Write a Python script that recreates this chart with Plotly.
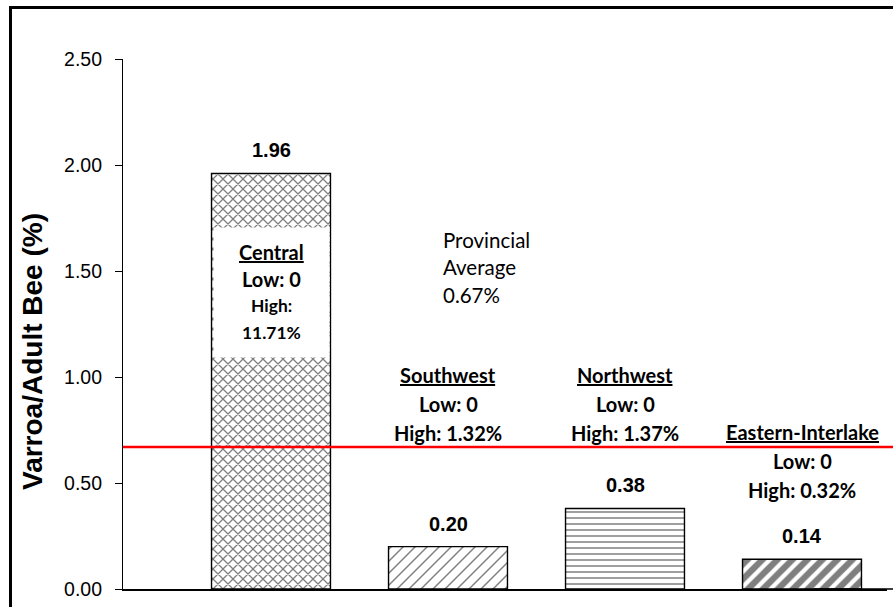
import plotly.graph_objects as go

# ---- data ----
regions = ["Central", "Southwest", "Northwest", "Eastern-Interlake"]
mean_values = [1.96, 0.20, 0.38, 0.14]
low_values = ["0", "0", "0", "0"]
high_values = ["11.71%", "1.32%", "1.37%", "0.32%"]
provincial_average = 0.67
y_ticks = [0.0, 0.5, 1.0, 1.5, 2.0, 2.5]
y_tick_labels = ["0.00", "0.50", "1.00", "1.50", "2.00", "2.50"]

# ---- layout geometry (pixels) ----
W, H = 893, 607
ML, MR, MT, MB = 123, 3, 59, 18
PW, PH = W - ML - MR, H - MT - MB
CAT_PX = 177.0          # pixel width of one category
FIRST_CAT_PX = 271.0    # pixel centre of the first category

def px_to_paper_x(px):
    return (px - ML) / PW

def px_to_paper_y(py):
    return (H - MB - py) / PH

def px_to_data_y(py):
    return (H - MB - py) / PH * 2.5

x_lo = (ML - FIRST_CAT_PX) / CAT_PX
x_hi = (W - MR - FIRST_CAT_PX) / CAT_PX

ARIAL = "Arial, Liberation Sans, sans-serif"
CALIBRI = "Lato, Carlito, Calibri, sans-serif"

fig = go.Figure()
fig.add_trace(go.Bar(
    x=list(range(len(regions))),
    y=mean_values,
    marker=dict(
        color="white",
        line=dict(color="black", width=1.4),
        pattern=dict(
            shape=["x", "/", "-", "/"],
            size=[7.071, 8.485, 6, 10.607],
            solidity=[0.33, 0.17, 0.25, 0.6],
            fgcolor="black",
            bgcolor="white",
        ),
    ),
    width=0.672,
    hoverinfo="skip",
    showlegend=False,
))

annotations = []
# value labels above bars
for i, v in enumerate(mean_values):
    annotations.append(dict(
        x=i, y=v, xref="x", yref="y", text=f"<b>{v:.2f}</b>",
        showarrow=False, yanchor="middle", yshift=23,
        font=dict(family=ARIAL, size=20, color="black"),
    ))

def add_lines(x, center_py, lines, spacing, xanchor="center"):
    n = len(lines)
    for k, (txt, size) in enumerate(lines):
        py = center_py + (k - (n - 1) / 2) * spacing
        annotations.append(dict(
            x=x, y=px_to_data_y(py), xref="x", yref="y", text=txt,
            showarrow=False, xanchor=xanchor, yanchor="middle",
            font=dict(family=CALIBRI, size=size, color="black"),
        ))

# Central: white box inside the bar
annotations.append(dict(
    x=0, y=px_to_data_y(292.5), xref="x", yref="y", text=" ",
    showarrow=False, bgcolor="white", width=115, height=129, borderpad=0,
))
add_lines(0, 292, [
    (f"<b><u>{regions[0]}</u></b>", 20),
    (f"<b>Low: {low_values[0]}</b>", 20),
    ("<b>High:</b>", 17.4),
    (f"<b>{high_values[0]}</b>", 17.4),
], 27)

# other region labels
label_center_py = {1: 403.5, 2: 403.5, 3: 461}
for i, cpy in label_center_py.items():
    add_lines(i, cpy, [
        (f"<b><u>{regions[i]}</u></b>", 20),
        (f"<b>Low: {low_values[i]}</b>", 20),
        (f"<b>High: {high_values[i]}</b>", 20),
    ], 29)

# provincial average label
add_lines(0.962, 267, [
    ("Provincial", 20.5),
    ("Average", 20.5),
    (f"{provincial_average:.2f}%", 20.5),
], 27.5, xanchor="left")

# y-axis title as rotated annotation
annotations.append(dict(
    x=px_to_paper_x(32), y=px_to_paper_y(352), xref="paper", yref="paper",
    text="<b>Varroa/Adult Bee (%)</b>", textangle=-90, showarrow=False,
    xanchor="center", yanchor="middle",
    font=dict(family=ARIAL, size=28, color="black"),
))

right_edge = px_to_paper_x(W)
shapes = [
    # white strip along the right page edge (the reference has no right frame)
    dict(type="rect", xref="paper", yref="paper",
         x0=px_to_paper_x(W - 6), x1=px_to_paper_x(W + 10),
         y0=px_to_paper_y(H + 10), y1=px_to_paper_y(-10),
         line=dict(width=0), fillcolor="white", layer="above"),
    # provincial average line
    dict(type="line", xref="paper", yref="y", x0=0, x1=right_edge,
         y0=provincial_average, y1=provincial_average,
         line=dict(color="#FF0000", width=2.5), layer="above"),
    # category axis line up to the page edge
    dict(type="line", xref="paper", yref="paper", x0=0.9, x1=right_edge,
         y0=0, y1=0, line=dict(color="black", width=1.5), layer="above"),
    # outer chart frame (top and left edges are visible)
    dict(type="line", xref="paper", yref="paper",
         x0=px_to_paper_x(9), x1=right_edge,
         y0=px_to_paper_y(7.5), y1=px_to_paper_y(7.5),
         line=dict(color="black", width=3), layer="above"),
    dict(type="line", xref="paper", yref="paper",
         x0=px_to_paper_x(10.5), x1=px_to_paper_x(10.5),
         y0=px_to_paper_y(6), y1=px_to_paper_y(H),
         line=dict(color="black", width=3), layer="above"),
]

fig.update_layout(
    width=W, height=H,
    margin=dict(l=ML, r=MR, t=MT, b=MB, pad=0),
    paper_bgcolor="white", plot_bgcolor="white",
    showlegend=False,
    annotations=annotations,
    shapes=shapes,
    xaxis=dict(
        range=[x_lo, x_hi], showgrid=False, zeroline=False,
        showline=True, linecolor="black", linewidth=1.5,
        showticklabels=False, ticks="", fixedrange=True,
    ),
    yaxis=dict(
        range=[0, 2.5], tickvals=y_ticks, ticktext=y_tick_labels,
        showgrid=False, zeroline=False, showline=True,
        linecolor="black", linewidth=1.2, ticks="outside", ticklen=7,
        tickwidth=1.2, tickcolor="black", ticklabelstandoff=9,
        tickfont=dict(family=ARIAL, size=19.5, color="black"),
        fixedrange=True,
    ),
)

fig.write_html(
    "out.html",
    config={"displayModeBar": False},
    post_script=(
        "document.body.style.margin='0px';"
        "document.body.style.padding='0px';"
        "document.body.style.overflow='hidden';"
    ),
)
